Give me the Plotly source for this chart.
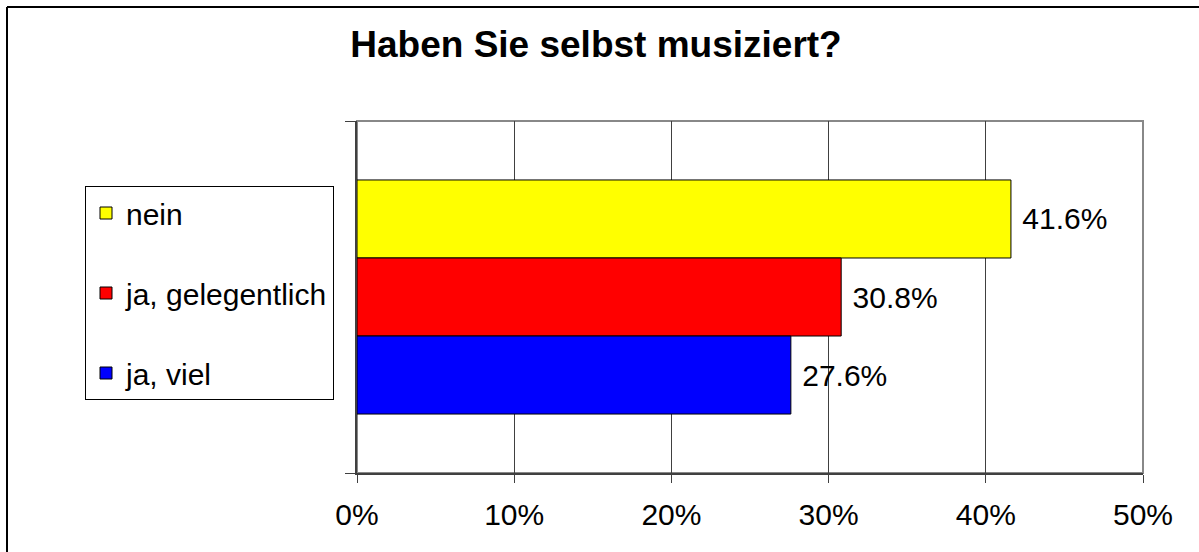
import plotly.graph_objects as go

title = "Haben Sie selbst musiziert?"
category = ["Antwort"]
series_names = ["nein", "ja, gelegentlich", "ja, viel"]
series_values = [41.6, 30.8, 27.6]
series_colors = ["#FFFF00", "#FF0000", "#0000FF"]
x_ticks = [0, 10, 20, 30, 40, 50]
x_tick_labels = ["0%", "10%", "20%", "30%", "40%", "50%"]

W, H = 1199, 552
ML, MR, MT, MB = 357, 56, 121, 79
PW, PH = W - ML - MR, H - MT - MB

def px_x(px):
    return (px - ML) / PW

def px_y(py):
    return (H - MB - py) / PH

FONT = "Liberation Sans, Arial, Helvetica, sans-serif"
FS = 30

fig = go.Figure()
for i, (name, val, col) in enumerate(zip(series_names, series_values, series_colors)):
    fig.add_trace(go.Bar(
        x=[val], y=category, name=name, orientation="h",
        marker=dict(color=col, line=dict(color="#000000", width=1)),
        text=[f"\u00a0{val:.1f}%"], textposition="outside",
        textfont=dict(family=FONT, size=FS, color="#000000"),
        constraintext="none", cliponaxis=False,
        legendgroup=f"g{i}",
    ))

fig.update_layout(
    width=W, height=H,
    margin=dict(l=ML, r=MR, t=MT, b=MB, pad=0),
    paper_bgcolor="#FFFFFF", plot_bgcolor="#FFFFFF",
    barmode="group", bargap=0.335, bargroupgap=0,
    font=dict(family=FONT, size=FS, color="#000000"),
    title=dict(text=f"<b>{title}</b>", x=596 / W, xref="container", xanchor="center",
               y=1 - 44 / H, yref="container", yanchor="middle",
               font=dict(family=FONT, size=37, color="#000000")),
    showlegend=True,
    legend=dict(x=px_x(85), y=px_y(186), xanchor="left", yanchor="top",
                bordercolor="#000000", borderwidth=1, bgcolor="#FFFFFF",
                font=dict(family=FONT, size=FS, color="#000000"),
                traceorder="grouped", tracegroupgap=38, itemwidth=30),
    xaxis=dict(range=[0, 50], tickvals=x_ticks, ticktext=x_tick_labels,
               showgrid=True, gridcolor="#404040", gridwidth=1, zeroline=False,
               showline=True, linecolor="#404040", linewidth=2,
               ticks="outside", ticklen=8, tickwidth=1, tickcolor="#404040",
               ticklabelstandoff=6,
               tickfont=dict(family=FONT, size=FS, color="#000000"), fixedrange=True),
    yaxis=dict(type="category", autorange="reversed", showgrid=False, zeroline=False,
               showline=True, linecolor="#404040", linewidth=2,
               ticks="outside", tickson="boundaries", ticklen=10, tickwidth=1,
               tickcolor="#404040", showticklabels=False, fixedrange=True),
    shapes=[
        dict(type="rect", xref="x domain", yref="y domain", x0=0, x1=1, y0=0, y1=1,
             line=dict(color="#888888", width=2), layer="below"),
        dict(type="line", xref="paper", yref="paper",
             x0=px_x(7), x1=px_x(7), y0=px_y(7), y1=px_y(552),
             line=dict(color="#000000", width=2), layer="above"),
        dict(type="line", xref="paper", yref="paper",
             x0=px_x(7), x1=px_x(1199), y0=px_y(7), y1=px_y(7),
             line=dict(color="#000000", width=2), layer="above"),
    ],
)

fig.write_html(
    "out.html",
    config={"displayModeBar": False},
    post_script=(
        "document.documentElement.style.margin='0';"
        "document.documentElement.style.overflow='hidden';"
        "document.body.style.margin='0';document.body.style.overflow='hidden';"
    ),
)
